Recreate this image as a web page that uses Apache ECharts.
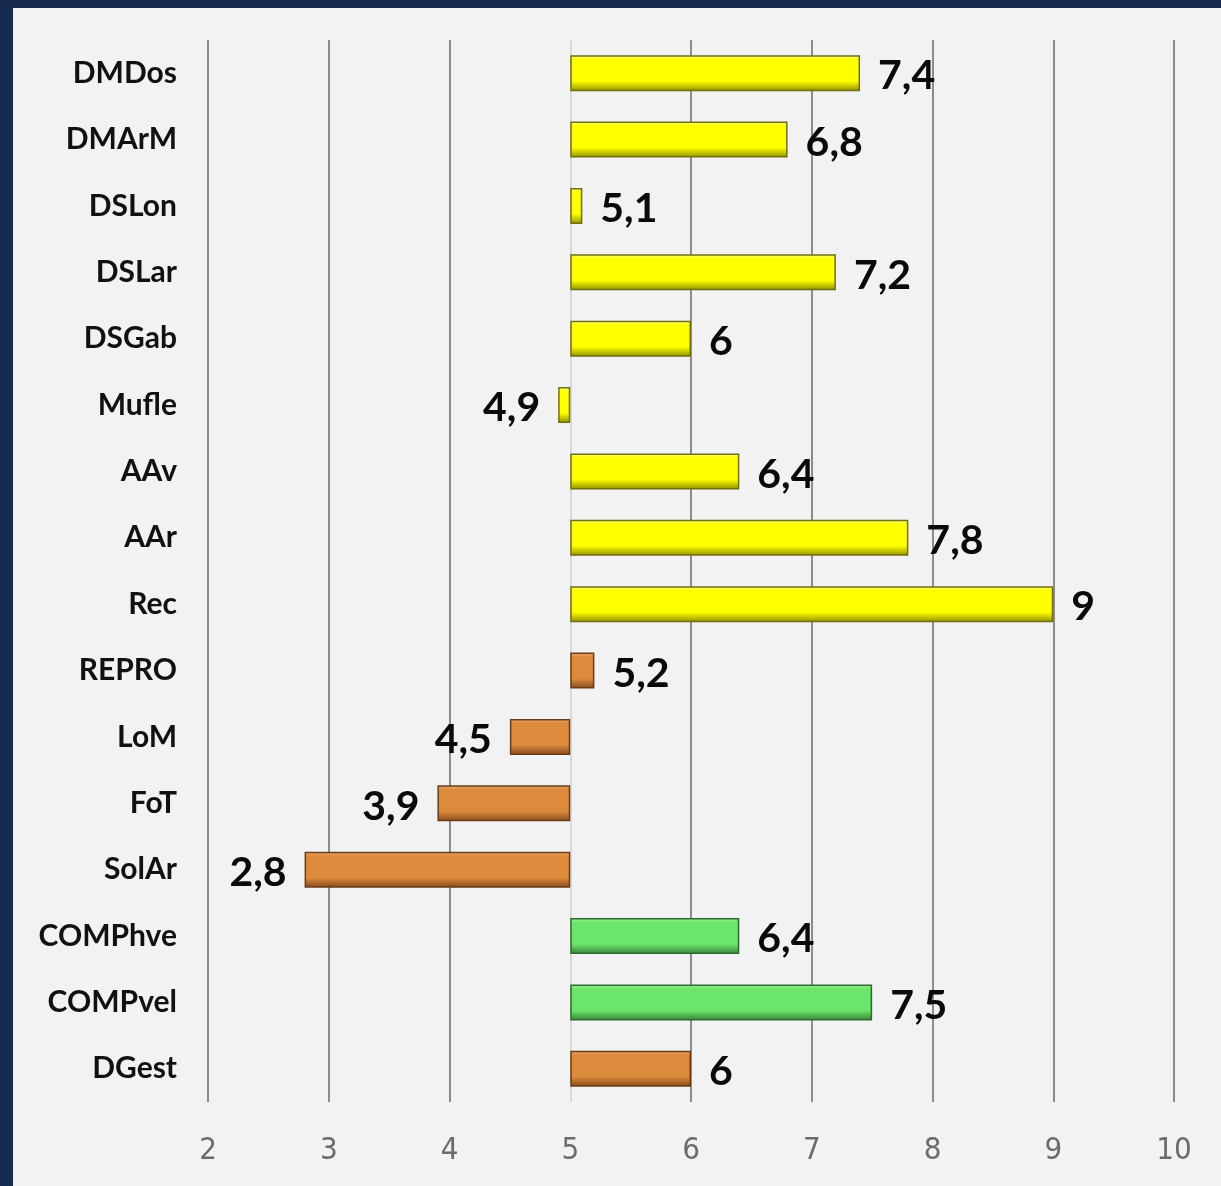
<!DOCTYPE html>
<html>
<head>
<meta charset="utf-8">
<script src="https://cdn.jsdelivr.net/npm/echarts@6/dist/echarts.min.js"></script>
<style>
  html, body { margin: 0; padding: 0; background: #172a50; }
  #chart { position: absolute; left: 13px; top: 8px; width: 1208px; height: 1178px; background: #f2f2f2; }
</style>
</head>
<body>
<div id="chart"></div>
<script>
// datos del gráfico
var categories = ['DMDos', 'DMArM', 'DSLon', 'DSLar', 'DSGab', 'Mufle', 'AAv', 'AAr', 'Rec',
  'REPRO', 'LoM', 'FoT', 'SolAr', 'COMPhve', 'COMPvel', 'DGest'];
var values = [7.4, 6.8, 5.1, 7.2, 6, 4.9, 6.4, 7.8, 9, 5.2, 4.5, 3.9, 2.8, 6.4, 7.5, 6];
var groups = ['y', 'y', 'y', 'y', 'y', 'y', 'y', 'y', 'y', 'o', 'o', 'o', 'o', 'g', 'g', 'o'];
var baseline = 5;
var xTicks = [2, 3, 4, 5, 6, 7, 8, 9, 10];

var palette = {
  y: { top: '#ffff90', base: '#ffff00', dark: '#8f8f00', border: '#6f6f10' },
  o: { top: '#eeae72', base: '#dc8a3c', dark: '#86491c', border: '#6a3c18' },
  g: { top: '#a4f5a4', base: '#6be66b', dark: '#388338', border: '#2e6a2e' }
};

function bevel(g) {
  var p = palette[g];
  return {
    type: 'linear', x: 0, y: 0, x2: 0, y2: 1,
    colorStops: [
      { offset: 0, color: p.top },
      { offset: 0.12, color: p.base },
      { offset: 0.72, color: p.base },
      { offset: 1, color: p.dark }
    ]
  };
}

var chart = echarts.init(document.getElementById('chart'));

var baseData = values.map(function (v) { return Math.min(v, baseline); });
var deltaData = values.map(function (v, i) {
  return {
    value: Math.abs(v - baseline),
    itemStyle: { color: bevel(groups[i]), borderColor: palette[groups[i]].border, borderWidth: 1.5 },
    label: { position: v < baseline ? 'left' : 'right' }
  };
});

var option = {
  backgroundColor: '#f2f2f2',
  animation: false,
  grid: { left: 195, right: 47, top: 32, bottom: 84, containLabel: false },
  xAxis: {
    type: 'value',
    min: xTicks[0],
    max: xTicks[xTicks.length - 1],
    interval: 1,
    axisLine: { show: false },
    axisTick: { show: false },
    axisLabel: {
      margin: 33,
      fontFamily: '"Liberation Sans Narrow", "DejaVu Sans Condensed", sans-serif',
      fontSize: 31,
      color: '#6b6b6b'
    },
    splitLine: {
      show: true,
      lineStyle: {
        width: 2,
        color: xTicks.map(function (t) { return t === baseline ? '#d9d9d9' : '#8c8c8c'; })
      }
    }
  },
  yAxis: {
    type: 'category',
    data: categories,
    inverse: true,
    axisLine: { show: false },
    axisTick: { show: false },
    axisLabel: {
      margin: 31,
      fontFamily: 'Lato, sans-serif',
      fontWeight: 'bold',
      fontSize: 30,
      color: '#111'
    }
  },
  series: [
    {
      name: 'base',
      type: 'bar',
      stack: 'total',
      silent: true,
      barWidth: 36,
      itemStyle: { color: 'transparent' },
      data: baseData
    },
    {
      name: 'valor',
      type: 'bar',
      stack: 'total',
      barWidth: 36,
      data: deltaData,
      label: {
        show: true,
        distance: 18,
        offset: [0, 3],
        fontFamily: 'Lato, sans-serif',
        fontWeight: 'bold',
        fontSize: 41,
        color: '#0a0a0a',
        formatter: function (p) { return String(values[p.dataIndex]).replace('.', ','); }
      }
    }
  ]
};

chart.setOption(option);
</script>
</body>
</html>
